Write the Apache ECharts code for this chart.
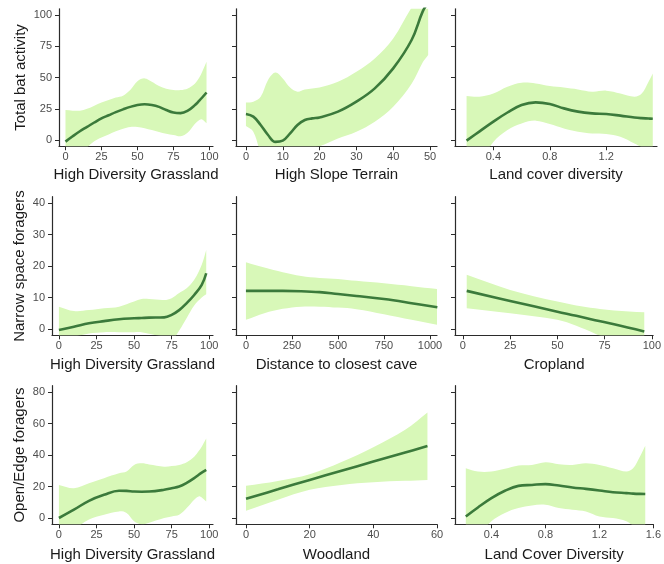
<!DOCTYPE html>
<html><head><meta charset="utf-8">
<script src="https://cdn.jsdelivr.net/npm/echarts@6/dist/echarts.min.js"></script>
<style>html,body{margin:0;padding:0;background:#fff}#c{width:664px;height:564px}</style>
</head><body><div id="c"></div>
<script>
// ---------- DATA ----------
// Row 1: Total bat activity
const hdgTotalX   = [0,5,10,15,20,25,30,35,40,45,50,55,60,65,70,75,80,85,90,93,95,98];
const hdgTotalFit = [-1.3,3,7,10.5,14,17.3,19.8,22.3,24.5,26.5,28,28.6,28,26.5,24,22,21.5,23.5,28,31.5,34,38];
const hdgTotalHi  = [24,23.5,23.5,25,27.5,30,32,34,35.5,40,47,49.3,46.7,43.2,41,40,40,41.3,45.3,50,54.7,62.7];
const hdgTotalLo  = [-27,-20,-13,-6,-1,2,4.5,7,9,10.5,10.5,9.5,8,6.5,5,4,3,6,13,16,16.5,13.5];

const slopeX   = [0,2,4,6,8,10,12,14,16,18,20,25,30,35,40,45,48,49.5];
const slopeFit = [20.8,18.7,12,4,-1.5,-0.5,5.3,12,16,17.3,18,22.7,30.7,41.3,57.3,80,102.7,110];
const slopeHi  = [30,30.7,34.7,48,54,49.3,42,38.7,40.5,41.3,42,46.7,54.7,65.3,81.3,106,118,124];
const slopeLo  = [11.2,6.7,-10,-20,-28,-28,-20,-12,-8,-6,-5,1.3,6.7,14.7,26.7,45,62,68];

const lcdTotalX   = [0.21,0.3,0.4,0.5,0.6,0.7,0.8,0.9,1.0,1.1,1.2,1.3,1.4,1.45,1.5,1.53];
const lcdTotalFit = [-0.5,6.7,14.7,22,28,30.1,28.8,25.3,22.7,21.3,20.8,19.5,18,17.5,17.2,17];
const lcdTotalHi  = [35.2,34.7,37.3,42.7,45.9,45.3,43.2,42,40.5,38.7,39.5,37.3,34.7,37,46.7,53.3];
const lcdTotalLo  = [-35,-20,-1.5,8,13.3,15.5,12.8,9.3,6.7,5.3,4.8,2.7,-2.7,-6,-14,-20];

// Row 2: Narrow space foragers
const hdgNarrowX   = [0,10,20,30,40,50,55,60,70,75,80,85,90,95,98];
const hdgNarrowFit = [-0.3,0.7,1.8,2.5,3.1,3.4,3.5,3.6,3.7,4.5,6,8.2,10.8,14,17.7];
const hdgNarrowHi  = [7.1,5.7,6,6.6,7.1,8.7,9.5,9.5,9.2,9.8,11.4,12.9,15.6,20.4,25.1];
const hdgNarrowLo  = [-4,-2.5,-1.4,-1,-1,-1,-1,-1.5,-2.5,-3.5,-0.5,3.5,7.5,10,11];

const caveX   = [0,100,200,300,400,500,600,750,900,1040];
const caveFit = [12.1,12.1,12.1,12,11.7,11.1,10.5,9.5,8.2,6.9];
const caveHi  = [21.2,19.5,18,16.8,16.2,15.9,15.3,14.5,13.6,12.7];
const caveLo  = [2.9,5,6.4,7.1,7.1,6.8,6.3,4.7,2.9,1.3];

const cropX   = [2,25,50,60,70,80,96];
const cropFit = [12.1,8.9,5.5,4.2,2.8,1.5,-0.8];
const cropHi  = [17.2,12.4,8.7,7.5,6.6,5.9,5.3];
const cropLo  = [6.6,5,2.9,1,-1.5,-4,-9];

// Row 3: Open/Edge foragers
const hdgOpenX   = [0,10,20,30,40,45,50,55,60,70,75,80,85,90,93,95,98];
const hdgOpenFit = [0,5.3,10.9,14.7,17.3,17.2,16.8,16.7,16.8,17.9,18.9,20,22.3,25.3,27.5,28.8,30.5];
const hdgOpenHi  = [21,18.9,22.1,25.3,28.4,29.5,33.7,34.7,34,32.6,33,33.7,35.4,38.9,42.5,45.3,50.5];
const hdgOpenLo  = [-20,-8,-1,2.1,4.2,3.2,-2,-4,-3,0,1,2,6.3,11.6,13.7,13,10.5];

const woodX   = [0,10,20,30,40,50,57];
const woodFit = [12.2,18.2,24.2,30,35.8,41.6,45.7];
const woodHi  = [20.4,23.5,27.8,35.5,45,56,67];
const woodLo  = [4.6,11.6,17.9,21,22.7,23.6,24.2];

const lcdOpenX   = [0.21,0.3,0.4,0.5,0.6,0.7,0.8,0.9,1.0,1.1,1.2,1.3,1.4,1.45,1.5,1.54];
const lcdOpenFit = [1,6.7,12.6,17.3,20.4,21,21.5,20.6,19.4,18.5,17.5,16.4,15.8,15.5,15.3,15.2];
const lcdOpenHi  = [31.6,29.5,29.5,31.2,33.3,33.7,35.4,34.1,33.7,34.7,33.7,31.6,29.5,31.6,38.9,45.9];
const lcdOpenLo  = [-25,-12,-2.1,3.2,6.3,8,8.4,6.3,5.3,4.2,1,0,-2,-5,-10,-15];

// Tick labels
const yTicksTotal  = [0,25,50,75,100];
const yTicksNarrow = [0,10,20,30,40];
const yTicksOpen   = [0,20,40,60,80];
const xTicksPct    = [0,25,50,75,100];
const xTicksSlope  = [0,10,20,30,40,50];
const xTicksLcd1   = [0.4,0.8,1.2];
const xTicksLcd3   = [0.4,0.8,1.2,1.6];
const xTicksCave   = [0,250,500,750,1000];
const xTicksWood   = [0,20,40,60];

// Titles
const rowTitles = ['Total bat activity','Narrow space foragers','Open/Edge foragers'];
const colTitles = ['High Diversity Grassland','High Slope Terrain','Land cover diversity',
                   'High Diversity Grassland','Distance to closest cave','Cropland',
                   'High Diversity Grassland','Woodland','Land Cover Diversity'];

// ---------- LAYOUT ----------
const series = [
  {x:hdgTotalX, fit:hdgTotalFit, hi:hdgTotalHi, lo:hdgTotalLo, xt:xTicksPct, yt:yTicksTotal},
  {x:slopeX, fit:slopeFit, hi:slopeHi, lo:slopeLo, xt:xTicksSlope, yt:yTicksTotal},
  {x:lcdTotalX, fit:lcdTotalFit, hi:lcdTotalHi, lo:lcdTotalLo, xt:xTicksLcd1, yt:yTicksTotal},
  {x:hdgNarrowX, fit:hdgNarrowFit, hi:hdgNarrowHi, lo:hdgNarrowLo, xt:xTicksPct, yt:yTicksNarrow},
  {x:caveX, fit:caveFit, hi:caveHi, lo:caveLo, xt:xTicksCave, yt:yTicksNarrow},
  {x:cropX, fit:cropFit, hi:cropHi, lo:cropLo, xt:xTicksPct, yt:yTicksNarrow},
  {x:hdgOpenX, fit:hdgOpenFit, hi:hdgOpenHi, lo:hdgOpenLo, xt:xTicksPct, yt:yTicksOpen},
  {x:woodX, fit:woodFit, hi:woodHi, lo:woodLo, xt:xTicksWood, yt:yTicksOpen},
  {x:lcdOpenX, fit:lcdOpenFit, hi:lcdOpenHi, lo:lcdOpenLo, xt:xTicksLcd3, yt:yTicksOpen}
];
const layout = [
  {g:[59,8.75,154,137.5],  xr:[-4.5,102.5], yr:[-5,105], ng:21, yg:31},
  {g:[236,8.75,201,137.5], xr:[-2.7,51.9],  yr:[-5,105], ng:21},
  {g:[455,8.75,202,137.5], xr:[0.128,1.56], yr:[-5,105], ng:21},
  {g:[52,196.7,161,138.6], xr:[-4.6,102.5], yr:[-2,42], ng:22, yg:25},
  {g:[236,196.7,201,138.6],xr:[-54,1038],   yr:[-2,42], ng:22},
  {g:[455,196.7,202,138.6],xr:[-4.2,100.7], yr:[-2,42], ng:22},
  {g:[52,385.7,161,138.6], xr:[-4.6,102.5], yr:[-4,84], ng:23, yg:25},
  {g:[236,385.7,201,138.6],xr:[-3.15,60],   yr:[-4,84], ng:23},
  {g:[455,385.7,205,138.6],xr:[0.13,1.6],   yr:[-4,84], ng:23}
];

const FONT = 'Liberation Sans, Arial, sans-serif';
const BAND = '#d8f8b8';
const LINE = '#3b7a3b';
const AX = '#2b2b2b';

const option = {backgroundColor:'#fff', animation:false, grid:[], xAxis:[], yAxis:[], series:[]};

series.forEach((p, i) => {
  const L = layout[i];
  option.grid.push({left:L.g[0], top:L.g[1], width:L.g[2], height:L.g[3], containLabel:false});
  option.xAxis.push({
    type:'value', gridIndex:i, min:L.xr[0], max:L.xr[1],
    name: colTitles[i], nameLocation:'middle', nameGap:L.ng,
    nameTextStyle:{fontFamily:FONT, fontSize:15, color:'#1a1a1a'},
    axisLine:{show:true, onZero:false, lineStyle:{color:AX, width:1.2}},
    axisTick:{show:true, length:4, customValues:p.xt, lineStyle:{color:AX, width:1}},
    axisLabel:{show:true, customValues:p.xt, margin:5, fontFamily:FONT, fontSize:11, color:'#4d4d4d',
               formatter: v => String(v)},
    splitLine:{show:false}
  });
  const col = i % 3;
  option.yAxis.push({
    type:'value', gridIndex:i, min:L.yr[0], max:L.yr[1],
    name: col === 0 ? rowTitles[Math.floor(i/3)] : '', nameLocation:'middle', nameGap:L.yg || 30,
    nameTextStyle:{fontFamily:FONT, fontSize:15, color:'#1a1a1a'},
    axisLine:{show:true, onZero:false, lineStyle:{color:AX, width:1.2}},
    axisTick:{show:true, length:4, customValues:p.yt, lineStyle:{color:AX, width:1}},
    axisLabel:{show: col === 0, customValues:p.yt, margin:7, fontFamily:FONT, fontSize:11, color:'#4d4d4d',
               formatter: v => String(v)},
    splitLine:{show:false}
  });
  option.series.push({
    type:'custom', xAxisIndex:i, yAxisIndex:i, clip:true, silent:true, z:1,
    data: p.x.map((x, k) => [x, p.lo[k], p.hi[k]]),
    encode:{x:0, y:[1,2]},
    renderItem: function (params, api) {
      if (params.dataIndex !== 0) return null;
      const up = p.x.map((x, k) => api.coord([x, p.hi[k]]));
      const dn = p.x.map((x, k) => api.coord([x, p.lo[k]])).reverse();
      // duplicate the corner points so the ends of the band stay straight
      const pts = [up[0]].concat(up, [up[up.length-1]], [dn[0]], dn, [dn[dn.length-1]]);
      return {type:'polygon', shape:{points:pts, smooth:0.35}, style:{fill:BAND}};
    }
  });
  option.series.push({
    type:'line', xAxisIndex:i, yAxisIndex:i, clip:true, silent:true, z:3,
    data: p.x.map((x, k) => [x, p.fit[k]]),
    smooth:0.4, showSymbol:false, symbol:'none',
    lineStyle:{color:LINE, width:2.6}
  });
});

const chart = echarts.init(document.getElementById('c'), null, {renderer:'canvas'});
chart.setOption(option);
</script></body></html>
